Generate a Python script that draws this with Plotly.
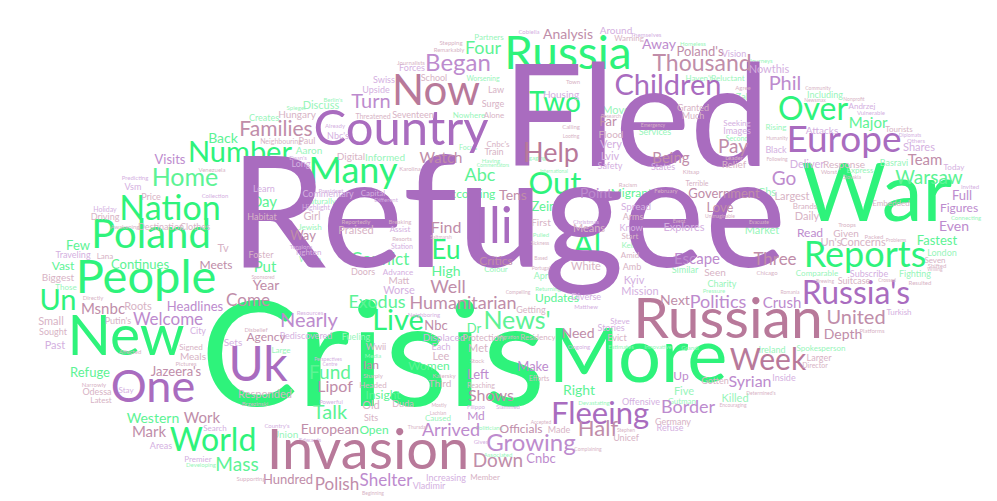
import plotly.graph_objects as go

# word cloud: refugee / Ukraine news coverage
# each hue group keeps its words, position (px in a 997x501 canvas) and font size

green_words = ["Crisis", "War", "More", "Russia", "New", "People", "Poland", "Nation", "Number", "Many",
               "Over", "Two", "Reports", "Al", "Eu", "Out", "Live", "News'", "World", "Un",
               "Home", "Day", "Few", "Vast", "Continues", "Put", "Refuge", "Western", "Mass", "Talk",
               "Fund", "Union", "Large", "Women", "Media", "Insight", "Open", "Right", "Exodus", "Conflict",
               "High", "Updates", "Zein", "According", "Migrants", "Abc", "Dr", "Fueling", "Market", "Cbs",
               "Fastest", "Similar", "Charity", "Fighting", "Comparable", "London", "Warsaw", "Major", "Including", "Zak",
               "Haven't", "Reluctant", "Rising", "Second", "Basravi", "Express", "Homeless", "Move", "Services", "Informed",
               "Nowhere", "Partners", "Worsening", "Four", "Focus", "Creates", "Discuss", "Back", "Aaron", "Spiegel",
               "Berlin's", "Naturally", "Jewish", "Welsh", "Ireland", "Spokesperson", "Killed", "Five", "Gutman", "Kelly",
               "April", "Colour", "Pulled", "Returning", "Associated", "Politicians", "Devastating", "Developing", "Estimates", "Innovative",
               "Pressure", "Connecting", "Grandi", "Caused", "Those", "International", "Commentators", "Having", "Engaging", "Journeys"]
green_x = [365, 869, 630, 560, 118, 138, 143, 162, 232, 345,
           805, 547, 857, 579, 438, 547, 390, 509, 205, 50,
           177, 256, 70, 55, 132, 257, 82, 145, 229, 322,
           322, 277, 273, 421, 365, 375, 366, 571, 369, 372,
           438, 549, 536, 461, 626, 472, 466, 348, 754, 759,
           929, 677, 714, 907, 809, 934, 921, 860, 817, 735,
           691, 720, 768, 729, 886, 852, 685, 608, 647, 377,
           461, 481, 475, 475, 460, 256, 313, 215, 301, 288,
           325, 312, 302, 302, 764, 813, 727, 676, 674, 622,
           535, 488, 533, 540, 490, 481, 586, 193, 613, 650,
           706, 958, 682, 430, 58, 546, 485, 483, 526, 753]
green_y = [362, 192, 355, 49, 333, 273, 230, 203, 147, 166,
           104, 97, 250, 240, 244, 178, 315, 315, 435, 295,
           172, 195, 239, 259, 258, 260, 366, 411, 458, 406,
           366, 427, 343, 359, 348, 388, 423, 383, 295, 253,
           264, 291, 200, 187, 186, 168, 322, 330, 223, 185,
           234, 263, 277, 267, 266, 246, 171, 116, 88, 90,
           71, 71, 120, 131, 156, 163, 36, 103, 125, 150,
           108, 30, 71, 41, 140, 111, 98, 131, 143, 100,
           92, 194, 220, 252, 343, 341, 391, 384, 394, 238,
           269, 262, 227, 281, 447, 420, 395, 457, 339, 339,
           283, 210, 340, 411, 280, 164, 158, 153, 150, 53]
green_size = [145, 82, 76, 46, 57, 47, 40, 34, 29, 36,
              32, 28, 36, 31, 26, 31, 29, 25, 32, 29,
              25, 15, 13, 12, 13, 15, 13, 14, 19, 20,
              19, 10, 8, 12, 6, 12, 12, 14, 18, 17,
              14, 12, 13, 12, 12, 18, 13, 9, 11, 11,
              13, 9, 9, 9, 8, 9, 19, 15, 9, 9,
              8, 8, 8, 7, 9, 8, 6, 11, 9, 10,
              8, 8, 7, 18, 7, 9, 11, 14, 10, 6,
              6, 8, 8, 8, 9, 8, 11, 11, 8, 8,
              9, 8, 6, 6, 6, 6, 6, 6, 6, 6,
              6, 6, 6, 8, 8, 5, 5, 6, 6, 6]

purple_words = ["Refugee", "Fled", "Country", "Uk", "One", "Europe", "Russia's", "Fleeing", "Growing", "Children",
                "Began", "Turn", "Phil", "Welcome", "Nearly", "Headlines", "Syrian", "Border", "Escape", "Politics",
                "Crush", "Full", "Figures", "Even", "Read", "Go", "Away", "Around", "Visits", "Long",
                "Nbc's", "Vsm", "Learn", "Traveling", "City", "Past", "Stay", "Search", "Areas", "Premier",
                "Shelter", "Increasing", "Vladimir", "Make", "Left", "Md", "Arrived", "Cnbc", "Offensive", "Refuse",
                "Up", "Inside", "Mission", "Kyiv", "Know", "Spread", "Worse", "Displaced", "Point", "Images",
                "Seeking", "Attacks", "Deliver", "Nowthis", "Black", "Subscribe", "Upside", "Capital", "Commentary", "Housing",
                "Andrzej", "Shares", "Stories", "Steve", "Diverse", "Matthew", "Neighboring", "Assist", "Advance", "Station",
                "Forces", "Swiss", "Vision", "Lviv", "Very", "Safety", "States", "Sets", "Each", "Rediscovered",
                "Turkish", "Today", "Highlight", "Tighten", "Holiday", "Christmas", "Themselves", "Cobiella", "Dean's", "Already",
                "Collection", "Predicting", "Tensions", "President", "Different", "Resources", "Perspectives", "Centre", "Powerful", "Country's",
                "Edwards", "Gives", "Filippo", "Slammed", "Ongoing", "Vulnerable", "Others", "Diplomats", "Invited", "Ili",
                "Explores"]
purple_x = [500, 628, 393, 250, 145, 836, 848, 592, 523, 660,
            450, 363, 777, 160, 301, 187, 742, 680, 689, 710,
            774, 954, 951, 946, 802, 776, 651, 608, 162, 293,
            330, 125, 256, 65, 190, 47, 118, 207, 153, 190,
            378, 438, 421, 525, 470, 468, 443, 533, 633, 662,
            673, 776, 632, 626, 623, 628, 391, 436, 588, 729,
            729, 814, 799, 761, 768, 861, 368, 365, 320, 553,
            854, 911, 603, 612, 578, 578, 416, 392, 390, 394,
            404, 376, 726, 602, 603, 602, 655, 225, 433, 298,
            891, 946, 308, 300, 97, 578, 638, 521, 290, 327,
            207, 127, 293, 323, 378, 302, 320, 322, 323, 269,
            302, 473, 468, 500, 571, 863, 908, 902, 962, 486,
            676]
purple_y = [220, 122, 125, 361, 383, 135, 288, 408, 437, 80,
            57, 95, 77, 313, 314, 300, 375, 400, 252, 295,
            296, 189, 201, 219, 226, 172, 37, 23, 153, 157,
            129, 180, 182, 248, 324, 338, 383, 421, 439, 452,
            474, 471, 479, 360, 368, 409, 423, 452, 395, 421,
            369, 371, 284, 273, 221, 199, 283, 330, 186, 124,
            116, 123, 157, 62, 143, 267, 83, 186, 187, 87,
            99, 140, 321, 314, 290, 299, 307, 222, 265, 239,
            61, 73, 47, 149, 137, 159, 160, 335, 340, 329,
            305, 160, 200, 245, 202, 214, 27, 24, 150, 118,
            188, 170, 239, 183, 192, 305, 352, 357, 394, 418,
            432, 434, 399, 399, 339, 105, 133, 128, 179, 222,
            220]
purple_size = [155, 142, 49, 48, 45, 37, 32, 31, 24, 29,
               24, 20, 20, 17, 20, 13, 16, 18, 15, 18,
               15, 13, 12, 14, 12, 19, 14, 10, 13, 9,
               9, 9, 9, 9, 9, 11, 8, 8, 9, 8,
               17, 9, 9, 13, 13, 12, 18, 13, 9, 9,
               12, 9, 11, 11, 9, 10, 11, 10, 14, 9,
               8, 10, 11, 11, 9, 9, 9, 8, 9, 10,
               8, 11, 9, 8, 9, 6, 6, 8, 8, 7,
               9, 9, 9, 11, 11, 9, 9, 10, 9, 9,
               8, 8, 7, 8, 7, 6, 6, 6, 6, 6,
               6, 6, 6, 6, 6, 6, 5, 5, 6, 6,
               6, 6, 6, 6, 6, 6, 6, 5, 6, 50,
               11]

mauve_words = ["Russian", "Invasion", "Now", "Week", "Families", "Help", "Thousand", "Poland's", "Analysis", "Warning",
               "Remarkably", "Seventeen", "School", "Law", "Surge", "Alone", "Train", "Cnbc's", "Watch", "Digital",
               "Hungary", "Neighbouring", "Paul", "Far", "Flood", "Being", "Pay", "Relief", "Granted", "Much",
               "Response", "Team", "Love", "Government", "Largest", "Daily", "Brands", "Three", "Seen", "Given",
               "Un's", "Concerns", "Next", "United", "Depth", "Suitcase", "Seven", "Need", "Evict", "Tens",
               "Find", "First", "Means", "White", "Critics", "Well", "Humanitarian", "Nbc", "Praised", "Doors",
               "Matt", "Meets", "Tv", "Come", "Year", "Msnbc", "Roots", "Small", "Putin's", "Agency",
               "Biggest", "Price", "Habitat", "Driving", "Destination", "Clothes", "Way", "Foster", "Lana", "Sought",
               "Jazeera's", "Meals", "Signed", "Odessa", "Latest", "Responded", "Work", "Mark", "Hundred", "Polish",
               "Lipof", "European", "Lee", "Met", "Ian", "Third", "Wwii", "Old", "Duda", "Sits",
               "Shows", "Officials", "Made", "Half", "Unicef", "Down", "Member", "Germany", "Headed", "Larger",
               "Gotten", "Director", "Protection", "Residency", "Getting", "Arms", "Amid", "Amb", "Start", "Girl",
               "Embedded", "Tourists", "Stepping", "Journalists", "Threatened", "Karolina", "Venezuela", "Awakening", "Directly", "Sponsored",
               "Disbelief", "Affected", "Pictures", "Narrowly", "Brzezinski", "Supporting", "Beginning", "Accepted", "Stephen", "Complaining",
               "Thursday", "Lachlan", "Mostly", "Katersky", "Sharply", "Reaching", "Efforts", "Stock", "Migration", "Compelling",
               "Based", "Portugal", "Sickness", "Saltmarsh", "Reportedly", "Breaking", "Resorts", "Kitsap", "Terrible", "Racism",
               "February", "Calling", "Looting", "Research", "Town", "Emergency", "Humanity", "Following", "Leader", "Worst",
               "Nonprofit", "Newsmax", "Community", "Agree", "Unimaginable", "Evacuate", "Event", "Troops", "Packed", "Problems",
               "Chicago", "Romania", "Platforms", "Willing", "Shifted", "Resulted", "Crossed", "Brewing", "Determined's", "Encouraging",
               "Slovakia"]
mauve_x = [720, 360, 428, 760, 268, 543, 694, 692, 560, 621,
           441, 405, 426, 488, 485, 486, 486, 490, 433, 343,
           289, 273, 299, 600, 603, 663, 725, 726, 685, 685,
           836, 917, 712, 716, 784, 799, 797, 767, 707, 838,
           823, 855, 667, 848, 835, 846, 927, 570, 609, 505,
           438, 533, 581, 578, 488, 440, 455, 428, 348, 355,
           391, 208, 215, 240, 258, 95, 130, 43, 110, 258,
           50, 143, 254, 97, 153, 187, 295, 253, 97, 45,
           168, 185, 183, 89, 93, 257, 194, 141, 280, 329,
           327, 322, 433, 470, 363, 432, 368, 363, 395, 363,
           483, 513, 551, 590, 618, 490, 477, 665, 365, 811,
           707, 807, 475, 530, 523, 625, 622, 624, 622, 304,
           883, 891, 443, 403, 365, 402, 204, 117, 85, 255,
           248, 122, 178, 86, 247, 243, 365, 533, 618, 580,
           410, 430, 431, 436, 365, 473, 531, 469, 500, 510,
           533, 533, 532, 433, 348, 392, 394, 683, 689, 620,
           658, 563, 563, 603, 565, 645, 769, 769, 726, 821,
           846, 807, 810, 735, 712, 751, 671, 839, 866, 888,
           759, 782, 864, 927, 929, 912, 879, 817, 753, 725,
           844]
mauve_y = [316, 447, 86, 354, 123, 147, 57, 45, 27, 31,
           42, 108, 71, 83, 97, 108, 145, 137, 151, 149,
           107, 134, 134, 115, 127, 151, 140, 157, 101, 109,
           157, 153, 201, 187, 189, 209, 199, 253, 265, 226,
           235, 235, 293, 311, 327, 274, 253, 326, 331, 188,
           221, 215, 221, 259, 254, 280, 296, 319, 223, 265,
           273, 258, 241, 294, 278, 302, 299, 314, 314, 330,
           270, 190, 210, 210, 220, 220, 229, 248, 249, 325,
           365, 349, 340, 385, 393, 387, 411, 425, 473, 478,
           380, 422, 349, 341, 358, 376, 340, 398, 397, 411,
           389, 422, 423, 422, 431, 454, 470, 415, 378, 351,
           374, 358, 331, 330, 303, 210, 248, 260, 229, 209,
           196, 122, 35, 55, 109, 161, 162, 219, 290, 270,
           322, 344, 356, 377, 396, 471, 486, 415, 423, 442,
           420, 406, 398, 368, 368, 378, 371, 353, 330, 285,
           251, 261, 236, 230, 214, 214, 231, 164, 176, 177,
           183, 119, 129, 109, 74, 118, 131, 152, 150, 164,
           92, 93, 81, 80, 209, 215, 214, 217, 229, 233,
           265, 285, 323, 262, 258, 275, 273, 274, 386, 398,
           170]
mauve_size = [57, 56, 42, 30, 21, 27, 23, 13, 14, 8,
              6, 9, 9, 9, 9, 8, 9, 8, 15, 10,
              10, 7, 9, 13, 10, 15, 19, 10, 9, 9,
              10, 15, 13, 13, 11, 11, 8, 17, 10, 10,
              11, 11, 14, 20, 14, 9, 8, 14, 9, 14,
              16, 10, 11, 11, 12, 18, 18, 13, 11, 9,
              10, 12, 11, 17, 14, 15, 11, 11, 9, 12,
              10, 9, 9, 9, 9, 9, 13, 9, 8, 9,
              13, 10, 8, 9, 8, 11, 15, 15, 13, 17,
              16, 14, 11, 11, 12, 10, 9, 11, 9, 9,
              16, 12, 9, 22, 9, 19, 8, 9, 8, 9,
              9, 7, 9, 8, 9, 9, 8, 9, 8, 11,
              8, 8, 6, 6, 7, 6, 6, 6, 6, 5,
              6, 6, 6, 6, 6, 6, 5, 5, 5, 5,
              5, 5, 5, 6, 6, 7, 7, 6, 5, 5,
              5, 5, 5, 5, 6, 6, 6, 6, 7, 6,
              6, 6, 5, 5, 6, 5, 5, 5, 6, 6,
              5, 5, 5, 6, 5, 5, 5, 6, 6, 5,
              6, 5, 6, 5, 6, 6, 5, 5, 5, 5,
              5]

palette = {
    "green": ("#2ef37b", "#5df395", "#98f5ba"),
    "purple": ("#a96cbf", "#bd8bce", "#d4b0df"),
    "mauve": ("#b8799a", "#c08da9", "#d7b3c5"),
}


def tint(hue, size):
    strong, mid, light = palette[hue]
    if size >= 26:
        return strong
    if size >= 12:
        return mid
    return light


groups = [
    ("green", green_words, green_x, green_y, green_size),
    ("purple", purple_words, purple_x, purple_y, purple_size),
    ("mauve", mauve_words, mauve_x, mauve_y, mauve_size),
]

fig = go.Figure()
for hue, words, xs, ys, sizes in groups:
    assert len(words) == len(xs) == len(ys) == len(sizes), hue
    fig.add_trace(go.Scatter(
        x=xs, y=ys, text=words, mode="text",
        textposition="middle center",
        textfont=dict(family="Lato", size=sizes, color=[tint(hue, s) for s in sizes]),
        hoverinfo="text", name=hue,
    ))

fig.update_layout(
    width=997, height=501,
    margin=dict(l=0, r=0, t=0, b=0),
    paper_bgcolor="white", plot_bgcolor="white",
    showlegend=False,
    xaxis=dict(range=[0, 997], visible=False, fixedrange=True),
    yaxis=dict(range=[501, 0], visible=False, fixedrange=True),
)

fig.write_html("out.html")
